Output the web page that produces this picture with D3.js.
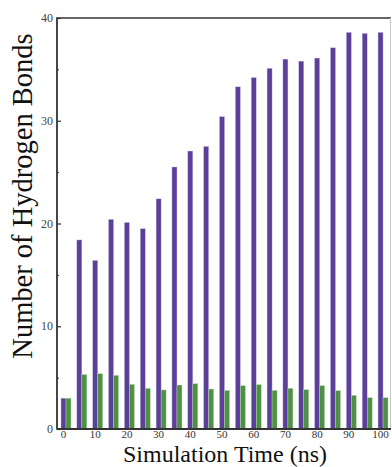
<!DOCTYPE html>
<html>
<head>
<meta charset="utf-8">
<script src="https://cdn.jsdelivr.net/npm/d3@7"></script>
<style>
  html, body { margin: 0; padding: 0; background: #fff; }
  svg { display: block; }
</style>
</head>
<body>
<svg id="chart" width="392" height="467"></svg>
<script>
// Simulation time points (ns)
const times = [0, 5, 10, 15, 20, 25, 30, 35, 40, 45, 50, 55, 60, 65, 70, 75, 80, 85, 90, 95, 100];
// Hydrogen bond counts, first series (purple)
const seriesA = [3.0, 18.4, 16.4, 20.4, 20.1, 19.5, 22.4, 25.5, 27.05, 27.5, 30.4, 33.3, 34.2, 35.1, 36.0, 35.8, 36.1, 37.1, 38.6, 38.5, 38.6];
// Hydrogen bond counts, second series (green)
const seriesB = [3.0, 5.3, 5.38, 5.22, 4.35, 3.96, 3.8, 4.28, 4.41, 3.89, 3.76, 4.22, 4.32, 3.76, 3.96, 3.83, 4.22, 3.73, 3.28, 3.05, 3.05];
const xTickLabels = [0, 10, 20, 30, 40, 50, 60, 70, 80, 90, 100];
const yTickLabels = [0, 10, 20, 30, 40];
const yMinorTicks = [5, 15, 25, 35];

const svg = d3.select("#chart");
const plotL = 57, plotR = 391, plotT = 18, plotB = 429;

const x = d3.scaleLinear().domain([-2.05, 103.3]).range([plotL, plotR]);
const y = d3.scaleLinear().domain([0, 40]).range([plotB, plotT]);
const barW = 5;

const colA = "#5b3f98", colB = "#4e9143";

// bars: purple centred on each time point, green just to its right
svg.append("g").selectAll("rect")
  .data(times.map((t, i) => ({ t, v: seriesA[i] })))
  .join("rect")
  .attr("x", d => x(d.t) - barW / 2)
  .attr("y", d => y(d.v))
  .attr("width", barW)
  .attr("height", d => y(0) - y(d.v))
  .attr("fill", colA)
  .attr("stroke", "#c9bfe3")
  .attr("stroke-width", 0.4);

svg.append("g").selectAll("rect")
  .data(times.map((t, i) => ({ t, v: seriesB[i] })))
  .join("rect")
  .attr("x", d => x(d.t) + barW / 2)
  .attr("y", d => y(d.v))
  .attr("width", barW)
  .attr("height", d => y(0) - y(d.v))
  .attr("fill", colB)
  .attr("stroke", "#bfdcb9")
  .attr("stroke-width", 0.4);

// frame
svg.append("line").attr("x1", plotL).attr("x2", plotR).attr("y1", plotT).attr("y2", plotT)
  .attr("stroke", "#333").attr("stroke-width", 1.6);
svg.append("line").attr("x1", plotR - 0.5).attr("x2", plotR - 0.5).attr("y1", plotT).attr("y2", plotB)
  .attr("stroke", "#c8c8c8").attr("stroke-width", 1);

// y axis with inward major and minor ticks
const yAxis = d3.axisRight(y).tickValues(yTickLabels).tickSize(4).tickFormat("");
const gy = svg.append("g").attr("transform", `translate(${plotL},0)`).call(yAxis);
gy.select(".domain").remove();
gy.selectAll("line").attr("stroke", "#333").attr("stroke-width", 1.2);
const yMinor = d3.axisRight(y).tickValues(yMinorTicks).tickSize(2).tickFormat("");
const gym = svg.append("g").attr("transform", `translate(${plotL},0)`).call(yMinor);
gym.select(".domain").remove();
gym.selectAll("line").attr("stroke", "#333").attr("stroke-width", 1);

svg.append("line").attr("x1", plotL).attr("x2", plotL).attr("y1", plotT - 0.8).attr("y2", plotB + 0.8)
  .attr("stroke", "#333").attr("stroke-width", 1.8);
svg.append("line").attr("x1", plotL).attr("x2", plotR).attr("y1", plotB).attr("y2", plotB)
  .attr("stroke", "#333").attr("stroke-width", 1.8);

// y tick labels
svg.append("g").selectAll("text")
  .data(yTickLabels)
  .join("text")
  .attr("x", plotL - 4)
  .attr("y", d => y(d))
  .attr("dy", "0.35em")
  .attr("text-anchor", "end")
  .attr("font-family", "Liberation Serif, serif")
  .attr("font-size", 12)
  .attr("fill", "#444")
  .text(d => d);

// x tick labels
svg.append("g").selectAll("text")
  .data(xTickLabels)
  .join("text")
  .attr("x", d => x(d))
  .attr("y", 438)
  .attr("text-anchor", "middle")
  .attr("font-family", "Liberation Serif, serif")
  .attr("font-size", 11)
  .attr("fill", "#333")
  .text(d => d);

// axis titles
svg.append("text")
  .attr("x", 225)
  .attr("y", 461.6)
  .attr("text-anchor", "middle")
  .attr("font-family", "Liberation Serif, serif")
  .attr("font-size", 24)
  .attr("fill", "#111")
  .text("Simulation Time (ns)");

svg.append("text")
  .attr("transform", "translate(32,196) rotate(-90)")
  .attr("text-anchor", "middle")
  .attr("font-family", "Liberation Serif, serif")
  .attr("font-size", 28.5)
  .attr("fill", "#111")
  .text("Number of Hydrogen Bonds");
</script>
</body>
</html>
